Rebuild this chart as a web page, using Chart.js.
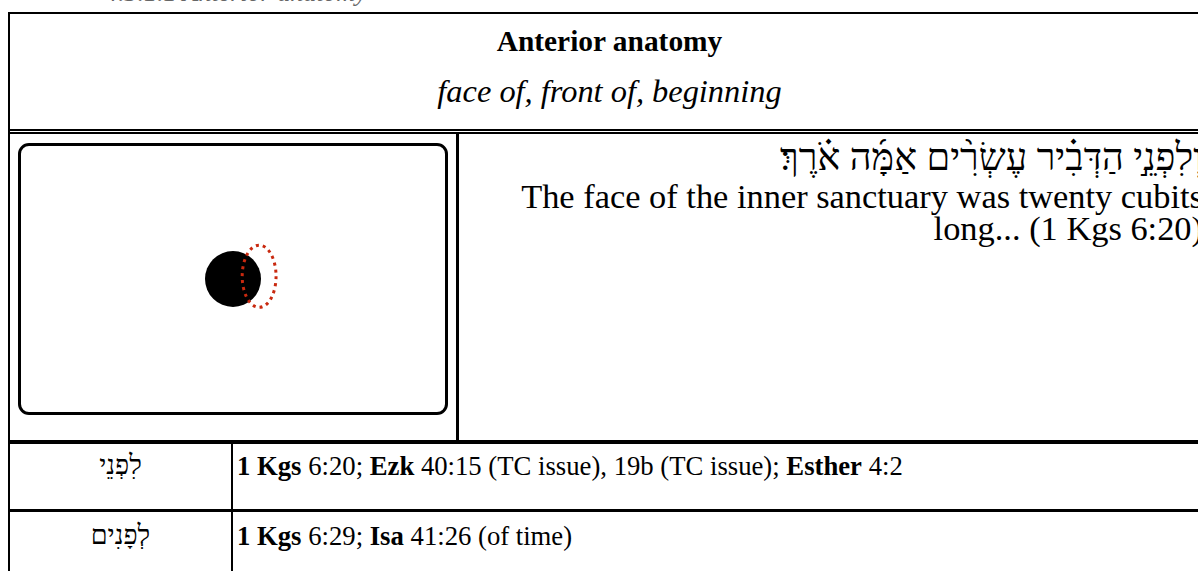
<!DOCTYPE html>
<html>
<head>
<meta charset="utf-8">
<script src="https://cdn.jsdelivr.net/npm/chart.js@4.4.1/dist/chart.umd.min.js"></script>
<style>
  html, body { margin: 0; padding: 0; background: #fff; overflow: hidden; width: 1198px; height: 571px; }
  body { position: relative; font-family: "Liberation Serif", "Times New Roman", serif; color: #000; }
  .ln { position: absolute; background: #000; }
  .t { position: absolute; white-space: nowrap; }
  #box { position: absolute; left: 18px; top: 143px; width: 430px; height: 272px; box-sizing: border-box;
         border: 3px solid #000; border-radius: 11px; }
  #diagram { position: absolute; left: 21px; top: 146px; }
</style>
</head>
<body>

<div class="t" style="left:105px;top:-22.5px;font-style:italic;font-size:26px;color:#666;">4.3.1.1 Anterior anatomy</div>

<!-- table frame -->
<div class="ln" style="left:8px;top:12px;width:2px;height:559px;"></div>
<div class="ln" style="left:8px;top:12px;width:1190px;height:2px;"></div>
<div class="ln" style="left:8px;top:129px;width:1190px;height:1.5px;"></div>
<div class="ln" style="left:8px;top:132px;width:1190px;height:1.5px;"></div>
<div class="ln" style="left:456px;top:133px;width:3px;height:307px;"></div>
<div class="ln" style="left:8px;top:440px;width:1190px;height:4px;"></div>
<div class="ln" style="left:231px;top:444px;width:2px;height:127px;"></div>
<div class="ln" style="left:8px;top:509px;width:1190px;height:3px;"></div>

<!-- header -->
<div class="t" style="left:8px;width:1203px;top:25px;text-align:center;font-weight:bold;font-size:29.4px;">Anterior anatomy</div>
<div class="t" style="left:8px;width:1203px;top:73px;text-align:center;font-style:italic;font-size:32.4px;">face of, front of, beginning</div>

<!-- diagram -->
<div id="box"></div>
<canvas id="diagram" width="424" height="266"></canvas>

<!-- verse -->
<div class="t" style="left:470px;width:733px;top:137px;text-align:right;direction:rtl;font-size:38px;line-height:40px;">וְלִפְנֵ֣י הַדְּבִ֗יר עֶשְׂרִ֨ים אַמָּ֜ה אֹ֗רֶךְ׃</div>
<div class="t" style="left:470px;width:733px;top:180px;text-align:right;font-size:34.4px;line-height:32px;">The face of the inner sanctuary was twenty cubits<br>long... (1 Kgs 6:20)</div>

<!-- rows -->
<div class="t" style="left:10px;width:221px;top:450px;text-align:center;font-size:27px;">לִפְנֵי</div>
<div class="t" style="left:237px;top:451px;font-size:26.7px;"><b>1 Kgs</b> 6:20; <b>Ezk</b> 40:15 (TC issue), 19b (TC issue); <b>Esther</b> 4:2</div>
<div class="t" style="left:10px;width:221px;top:520px;text-align:center;font-size:27px;">לְפָנִים</div>
<div class="t" style="left:237px;top:521px;font-size:26.7px;"><b>1 Kgs</b> 6:29; <b>Isa</b> 41:26 (of time)</div>

<script>
// body (solid disc) and the anterior face (dotted outline)
const bodyX = [50];
const bodyY = [50];
const bodyR = [28];
const faceX = [57.1];
const faceY = [51.3];
const faceRX = [4.6];
const faceRY = [14.8];

const dottedOutline = {
  id: "dottedOutline",
  afterDatasetsDraw(chart) {
    const xs = chart.scales.x, ys = chart.scales.y, ctx = chart.ctx;
    chart.data.datasets[1].data.forEach(p => {
      const cx = xs.getPixelForValue(p.x);
      const cy = ys.getPixelForValue(p.y);
      const rx = Math.abs(xs.getPixelForValue(p.x + p.rx) - cx);
      const ry = Math.abs(ys.getPixelForValue(p.y + p.ry) - cy);
      ctx.save();
      ctx.strokeStyle = "#c9290f";
      ctx.lineWidth = 3;
      ctx.setLineDash([3, 4]);
      ctx.beginPath();
      ctx.ellipse(cx, cy, rx, ry, 0, 0, Math.PI * 2);
      ctx.stroke();
      ctx.restore();
    });
  }
};

new Chart(document.getElementById("diagram"), {
  type: "bubble",
  plugins: [dottedOutline],
  data: {
    datasets: [
      {
        type: "bubble",
        data: bodyX.map((x, i) => ({ x, y: bodyY[i], r: bodyR[i] })),
        backgroundColor: "#000",
        borderWidth: 0,
        hoverRadius: 0,
      },
      {
        type: "scatter",
        data: faceX.map((x, i) => ({ x, y: faceY[i], rx: faceRX[i], ry: faceRY[i] })),
        pointRadius: 0,
        pointHoverRadius: 0,
      },
    ],
  },
  options: {
    responsive: false,
    animation: false,
    events: [],
    layout: { padding: 0 },
    plugins: { legend: { display: false }, tooltip: { enabled: false } },
    scales: {
      x: { type: "linear", min: 0, max: 100, display: false },
      y: { type: "linear", min: 0, max: 100, display: false },
    },
  },
});
</script>
</body>
</html>
